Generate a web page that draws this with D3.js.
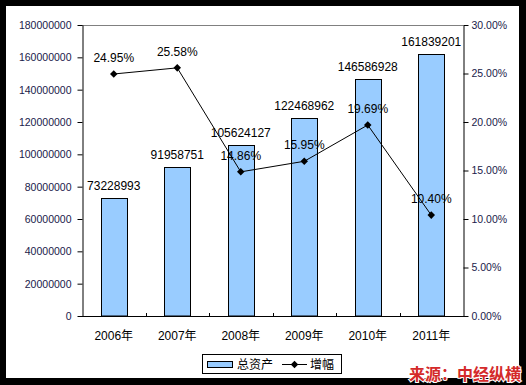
<!DOCTYPE html>
<html>
<head>
<meta charset="utf-8">
<script src="https://cdn.jsdelivr.net/npm/d3@7"></script>
<style>
  body { margin: 0; background: #000; }
  svg text { font-family: "Liberation Sans", Arial, "Noto Sans CJK SC", sans-serif; }
</style>
</head>
<body>
<div id="chart"></div>
<script>

let years = ["2006年", "2007年", "2008年", "2009年", "2010年", "2011年"];
let assets = [73228993, 91958751, 105624127, 122468962, 146586928, 161839201];
let growth = [24.95, 25.58, 14.86, 15.95, 19.69, 10.40];
let left_ticks = [0, 20000000, 40000000, 60000000, 80000000, 100000000, 120000000, 140000000, 160000000, 180000000];
let right_ticks = [0, 5, 10, 15, 20, 25, 30];

function draw_chart() {

    let chart_width = 526;
    let chart_height = 385;

    let margin_top = 25;
    let margin_left = 82;
    let plot_right = 463;
    let plot_bottom = 316;

    let tick_color = "#1a1a4a";

    let svg = d3.select("#chart")
                .append("svg")
                .attr("width", chart_width)
                .attr("height", chart_height);

    svg.append("rect")
        .attr("x", 0).attr("y", 0)
        .attr("width", chart_width).attr("height", chart_height)
        .attr("fill", "#000");

    svg.append("rect")
        .attr("x", 6).attr("y", 6)
        .attr("width", 513).attr("height", 372)
        .attr("fill", "#fff");

    let xScale = d3.scaleBand()
                    .domain(years)
                    .range([margin_left, plot_right]);

    let yScale = d3.scaleLinear()
                    .domain([0, 180000000])
                    .range([plot_bottom, margin_top]);

    let y2Scale = d3.scaleLinear()
                    .domain([0, 30])
                    .range([plot_bottom, margin_top]);

    // top border of plot area
    svg.append("line")
        .attr("x1", margin_left).attr("x2", plot_right)
        .attr("y1", margin_top + 0.5).attr("y2", margin_top + 0.5)
        .attr("stroke", "#808080")
        .attr("stroke-width", 1);

    let bar_width = 26;

    svg.selectAll(".asset_rect")
        .data(assets)
        .enter()
        .append("rect")
        .attr("class", "asset_rect")
        .attr("x", function(d, i) { return Math.round(xScale(years[i]) + xScale.bandwidth() / 2 - bar_width / 2) + 0.5; })
        .attr("y", function(d) { return Math.round(yScale(d)) + 0.5; })
        .attr("width", bar_width)
        .attr("height", function(d) { return plot_bottom - Math.round(yScale(d)) - 0.5; })
        .attr("fill", "#99ccff")
        .attr("stroke", "#000")
        .attr("stroke-width", 1);

    // left axis
    let y_axis = svg.append("g")
        .attr("transform", "translate(" + (margin_left + 0.5) + ",0)")
        .call(d3.axisLeft(yScale).tickValues(left_ticks).tickSize(5).tickSizeOuter(0).tickPadding(6).tickFormat(d3.format("d")));
    y_axis.selectAll("text").attr("font-size", "10.5px").attr("fill", tick_color);
    y_axis.selectAll("line, path").attr("stroke", "#000");

    // right axis
    let y2_axis = svg.append("g")
        .attr("transform", "translate(" + (plot_right + 0.5) + ",0)")
        .call(d3.axisRight(y2Scale).tickValues(right_ticks).tickSize(5).tickSizeOuter(0).tickPadding(3).tickFormat(function(d) { return d.toFixed(2) + "%"; }));
    y2_axis.selectAll("text").attr("font-size", "10.5px").attr("fill", tick_color);
    y2_axis.selectAll("line, path").attr("stroke", "#000");

    // bottom axis
    svg.append("line")
        .attr("x1", margin_left).attr("x2", plot_right + 1)
        .attr("y1", plot_bottom + 0.5).attr("y2", plot_bottom + 0.5)
        .attr("stroke", "#000");

    svg.selectAll(".x_tick")
        .data(years.slice(1))
        .enter()
        .append("line")
        .attr("class", "x_tick")
        .attr("x1", function(d) { return Math.round(xScale(d)) + 0.5; })
        .attr("x2", function(d) { return Math.round(xScale(d)) + 0.5; })
        .attr("y1", plot_bottom - 3)
        .attr("y2", plot_bottom)
        .attr("stroke", "#000");

    svg.selectAll(".x_label")
        .data(years)
        .enter()
        .append("text")
        .attr("class", "x_label")
        .attr("x", function(d) { return xScale(d) + xScale.bandwidth() / 2; })
        .attr("y", plot_bottom + 24)
        .attr("text-anchor", "middle")
        .attr("font-size", "12px")
        .attr("fill", "#000")
        .text(function(d) { return d; });

    // bar value labels
    svg.selectAll(".asset_label")
        .data(assets)
        .enter()
        .append("text")
        .attr("class", "asset_label")
        .attr("x", function(d, i) { return xScale(years[i]) + xScale.bandwidth() / 2; })
        .attr("y", function(d) { return yScale(d) - 8; })
        .attr("text-anchor", "middle")
        .attr("font-size", "12px")
        .attr("fill", "#000")
        .text(function(d) { return d; });

    // growth line
    let line = d3.line()
        .x(function(d, i) { return xScale(years[i]) + xScale.bandwidth() / 2; })
        .y(function(d) { return y2Scale(d); });

    svg.append("path")
        .datum(growth)
        .attr("d", line)
        .attr("fill", "none")
        .attr("stroke", "#000")
        .attr("stroke-width", 1);

    let diamond = d3.symbol().type(d3.symbolDiamond2).size(36);

    svg.selectAll(".growth_point")
        .data(growth)
        .enter()
        .append("path")
        .attr("class", "growth_point")
        .attr("d", diamond)
        .attr("transform", function(d, i) {
            return "translate(" + (xScale(years[i]) + xScale.bandwidth() / 2) + "," + y2Scale(d) + ")";
        })
        .attr("fill", "#000");

    svg.selectAll(".growth_label")
        .data(growth)
        .enter()
        .append("text")
        .attr("class", "growth_label")
        .attr("x", function(d, i) { return xScale(years[i]) + xScale.bandwidth() / 2; })
        .attr("y", function(d) { return y2Scale(d) - 12; })
        .attr("text-anchor", "middle")
        .attr("font-size", "12px")
        .attr("fill", "#000")
        .text(function(d) { return d.toFixed(2) + "%"; });

    // legend
    let legend = svg.append("g");

    legend.append("rect")
        .attr("x", 202.5).attr("y", 354.5)
        .attr("width", 139).attr("height", 19)
        .attr("fill", "#fff")
        .attr("stroke", "#000");

    legend.append("rect")
        .attr("x", 207.5).attr("y", 361.5)
        .attr("width", 25).attr("height", 6)
        .attr("fill", "#99ccff")
        .attr("stroke", "#000");

    legend.append("text")
        .attr("x", 237).attr("y", 369)
        .attr("font-size", "12px")
        .attr("font-family", "'Noto Sans CJK SC', sans-serif")
        .text("总资产");

    legend.append("line")
        .attr("x1", 282).attr("x2", 307)
        .attr("y1", 364.5).attr("y2", 364.5)
        .attr("stroke", "#000");

    legend.append("path")
        .attr("d", diamond)
        .attr("transform", "translate(294.5,364.5)")
        .attr("fill", "#000");

    legend.append("text")
        .attr("x", 310).attr("y", 369)
        .attr("font-size", "12px")
        .attr("font-family", "'Noto Sans CJK SC', sans-serif")
        .text("增幅");

    // source note
    svg.append("text")
        .attr("x", 521).attr("y", 380)
        .attr("text-anchor", "end")
        .attr("font-size", "16px")
        .attr("font-weight", "bold")
        .attr("font-family", "'Noto Sans CJK SC', sans-serif")
        .attr("fill", "#d42a2a")
        .attr("stroke", "#fff")
        .attr("stroke-width", 2)
        .attr("paint-order", "stroke")
        .text("来源：中经纵横");
}

draw_chart();

</script>
</body>
</html>
